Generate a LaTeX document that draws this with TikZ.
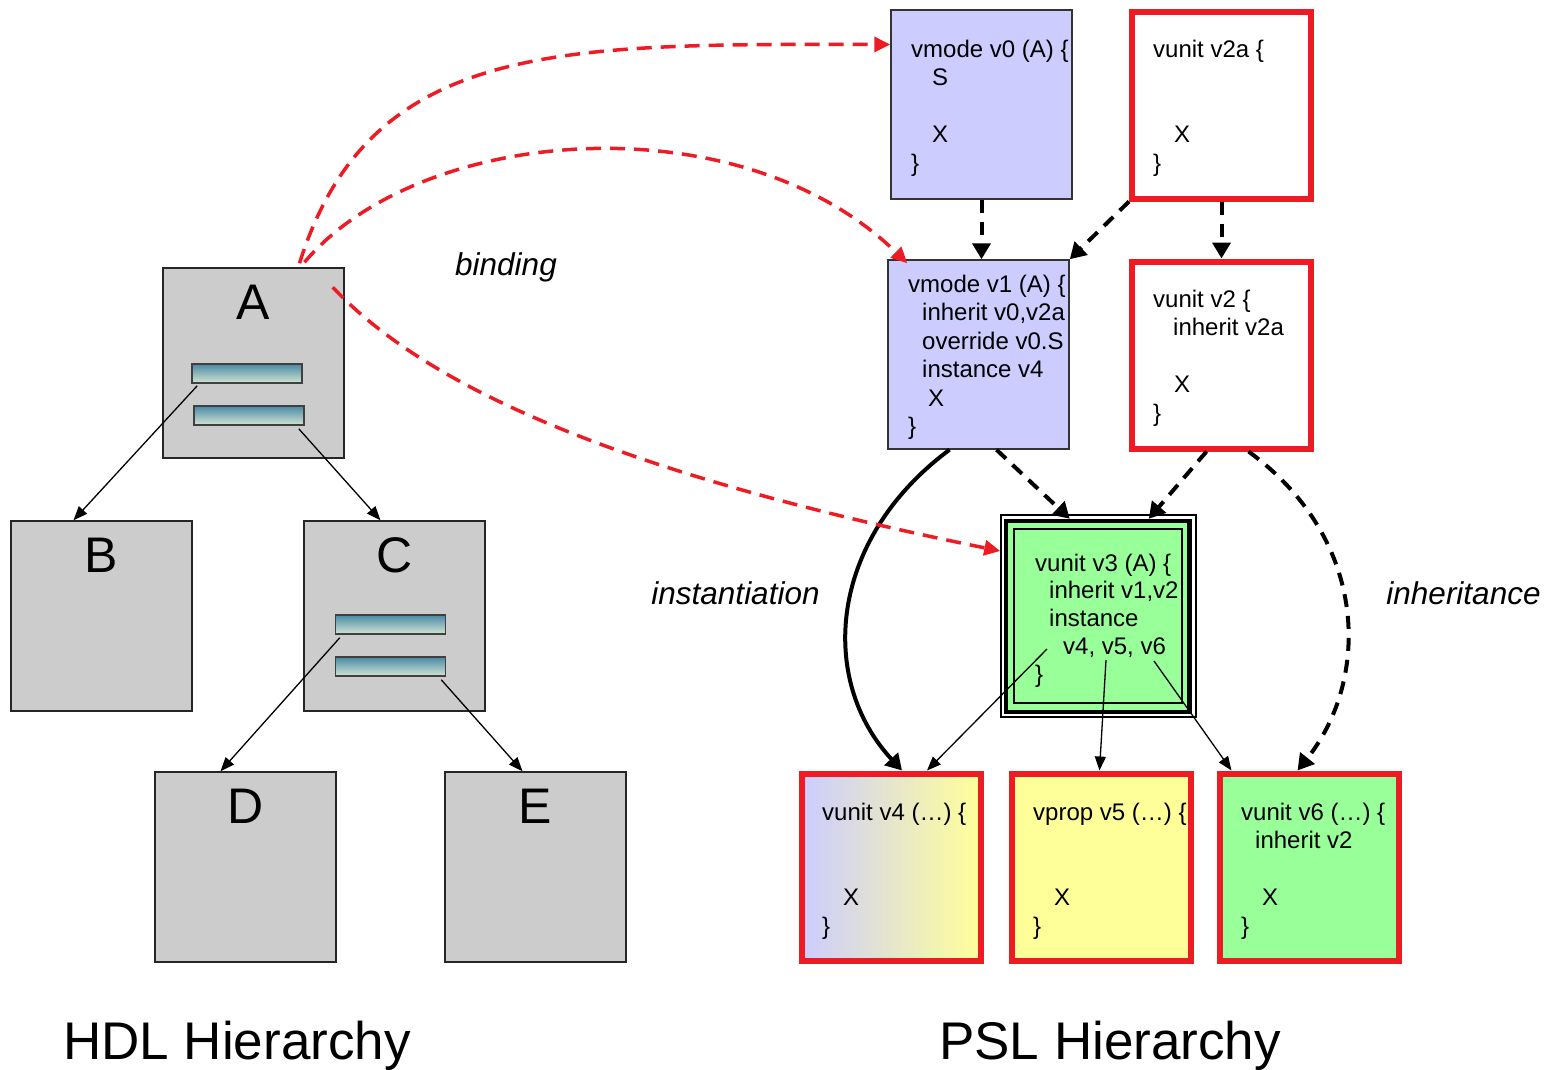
\documentclass[tikz,border=0pt]{standalone}
\usepackage{fontspec}
\setmainfont{Liberation Sans}
\usetikzlibrary{arrows.meta}

\definecolor{pslred}{HTML}{ED1C24}
\definecolor{lavender}{HTML}{CCCCFF}
\definecolor{lightgreen}{HTML}{99FF99}
\definecolor{lightyellow}{HTML}{FFFF99}
\definecolor{boxgray}{HTML}{CCCCCC}
\definecolor{barteal}{HTML}{4A89A6}
\definecolor{barpale}{HTML}{D2E5D2}

\newcommand{\codelines}[1]{\begin{tabular}[t]{@{}l@{}}#1\end{tabular}}
\newcommand{\ind}[1]{\hspace*{#1pt}}

\tikzset{
  hdlbox/.style={draw=black!85, line width=1.5pt, fill=boxgray, minimum width=181pt, minimum height=190pt, inner sep=0},
  bar/.style={draw=black!75, line width=1.5pt, top color=barteal, bottom color=barpale, minimum width=110pt, minimum height=19pt, inner sep=0},
  vmodebox/.style={draw=black!80, line width=1.5pt, fill=lavender, minimum width=181pt, minimum height=189pt, inner sep=0},
  vunitbox/.style={draw=pslred, line width=6pt, minimum width=179pt, minimum height=187pt, inner sep=0},
  code/.style={anchor=base west, inner sep=0, font=\fontsize{24}{28.5}\selectfont},
  bigletter/.style={anchor=base, inner sep=0, font=\fontsize{50}{60}\selectfont},
  title/.style={anchor=base, inner sep=0, font=\fontsize{53}{60}\selectfont},
  relname/.style={anchor=base, inner sep=0, font=\fontsize{31.5}{36}\selectfont\itshape},
  thinarrow/.style={line width=1.3pt, -{Triangle[length=14pt,width=11pt]}},
  inherits/.style={line width=4pt, dash pattern=on 13pt off 9pt, -{Triangle[length=16pt,width=18pt]}},
  instarrow/.style={line width=4pt, -{Triangle[length=16pt,width=18pt]}},
  binds/.style={pslred, line width=3.5pt, dash pattern=on 15pt off 9pt, -{Triangle[length=16pt,width=15pt]}}
}

\begin{document}
\begin{tikzpicture}[x=1pt,y=-1pt]
\useasboundingbox (0,0) rectangle (1560,1069);

% HDL hierarchy
\node[hdlbox] (A) at (253.5,363) {};
\node[hdlbox] (B) at (101.5,616) {};
\node[hdlbox] (C) at (394.5,616) {};
\node[hdlbox] (D) at (245.5,867) {};
\node[hdlbox] (E) at (535.5,867) {};
\node[bigletter] (Aname) at (253.5,319) {A};
\node[bigletter] (Bname) at (101.5,572) {B};
\node[bigletter] (Cname) at (394.5,572) {C};
\node[bigletter] (Dname) at (245.5,823) {D};
\node[bigletter] (Ename) at (535.5,823) {E};
\node[bar] (Abar1) at (247,373.5) {};
\node[bar] (Abar2) at (249,415.5) {};
\node[bar] (Cbar1) at (390.5,624.5) {};
\node[bar] (Cbar2) at (390.5,666.5) {};

\draw[thinarrow] ([xshift=6pt,yshift=-2pt]Abar1.south west) -- ([xshift=-28pt]B.north);
\draw[thinarrow] ([xshift=-6pt,yshift=-3pt]Abar2.south east) -- ([xshift=-14pt]C.north);
\draw[thinarrow] ([xshift=5pt,yshift=-3pt]Cbar1.south west) -- ([xshift=-25pt]D.north);
\draw[thinarrow] ([xshift=-5pt,yshift=-3pt]Cbar2.south east) -- ([xshift=-13pt]E.north);

\node[title] (hdltitle) at (237,1059) {HDL Hierarchy};

% PSL hierarchy
\node[vmodebox] (v0) at (981.5,104.5) {};
\node[vmodebox] (v1) at (978.5,354.5) {};
\node[vunitbox, fill=white] (v2a) at (1221.5,105) {};
\node[vunitbox, fill=white] (v2) at (1221.5,355) {};
\node[draw=black, line width=1.5pt, fill=white, minimum width=195pt, minimum height=202pt, inner sep=0] (v3) at (1098.5,616) {};
\node[draw=black, line width=4.5pt, fill=lightgreen, minimum width=183.5pt, minimum height=191pt, inner sep=0] (v3frame) at (1097.75,616.5) {};
\node[draw=black, line width=1.5pt, minimum width=168pt, minimum height=174pt, inner sep=0] (v3inner) at (1098,616) {};
\node[vunitbox, left color=lavender, right color=lightyellow] (v4) at (891,867) {};
\node[vunitbox, fill=lightyellow] (v5) at (1101.5,867) {};
\node[vunitbox, fill=lightgreen] (v6) at (1309.5,867) {};

\node[code] (v0text) at (911,57) {\codelines{vmode v0 (A) \{\\ \ind{21}S\\ \\ \ind{21}X\\ \}}};
\node[code] (v1text) at (908,292) {\codelines{vmode v1 (A) \{\\ \ind{14}inherit v0,v2a\\ \ind{14}override v0.S\\ \ind{14}instance v4\\ \ind{20}X\\ \}}};
\node[code] (v2atext) at (1153,57) {\codelines{vunit v2a \{\\ \\ \\ \ind{21}X\\ \}}};
\node[code] (v2text) at (1153,307) {\codelines{vunit v2 \{\\ \ind{20}inherit v2a\\ \\ \ind{21}X\\ \}}};
\node[code, font=\fontsize{24}{27.75}\selectfont] (v3text) at (1035,571) {\codelines{vunit v3 (A) \{\\ \ind{14}inherit v1,v2\\ \ind{14}instance\\ \ind{28}v4, v5, v6\\ \}}};
\node[code] (v4text) at (822,820) {\codelines{vunit v4 (…) \{\\ \\ \\ \ind{21}X\\ \}}};
\node[code] (v5text) at (1033,820) {\codelines{vprop v5 (…) \{\\ \\ \\ \ind{21}X\\ \}}};
\node[code] (v6text) at (1241,820) {\codelines{vunit v6 (…) \{\\ \ind{14}inherit v2\\ \\ \ind{21}X\\ \}}};

\coordinate (inst4) at (1047,649);
\coordinate (inst5) at (1106,660);
\coordinate (inst6) at (1154,661);

\draw[inherits] (v0.south) -- (v0.south |- v1.north);
\draw[inherits] (v2a.south west) -- (v1.north east);
\draw[inherits] (v2a.south) -- (v2.north);
\draw[inherits] ([xshift=18pt]v1.south) -- ([xshift=-28pt]v3frame.north);
\draw[inherits] ([xshift=-15pt]v2.south) -- ([xshift=51pt]v3frame.north);
\draw[inherits] ([xshift=27pt]v2.south) .. controls (1370,540) and (1370,680) .. ([xshift=-12pt]v6.north);
\draw[instarrow] ([xshift=-29pt]v1.south) .. controls (828,540) and (818,680) .. ([xshift=11pt]v4.north);
\draw[thinarrow] (inst4) -- ([xshift=36pt]v4.north);
\draw[thinarrow] (inst5) -- ([xshift=-2pt]v5.north);
\draw[thinarrow] (inst6) -- ([xshift=-78pt]v6.north);

% bindings
\draw[binds] ([xshift=46pt,yshift=4pt]A.north) .. controls (370,40) and (560,44) .. ([yshift=60pt]v0.west);
\draw[binds] ([xshift=51pt,yshift=5pt]A.north) .. controls (420,125) and (740,100) .. ([xshift=20pt,yshift=-4pt]v1.north west);
\draw[binds] ([xshift=-12pt,yshift=-20pt]A.north east) .. controls (420,380) and (600,470) .. ([yshift=65pt]v3.west);

\node[relname] (binding) at (506,275) {binding};
\node[relname] (instantiation) at (735.5,604) {instantiation};
\node[relname] (inheritance) at (1463.5,604) {inheritance};
\node[title] (psltitle) at (1110,1059) {PSL Hierarchy};
\end{tikzpicture}
\end{document}
